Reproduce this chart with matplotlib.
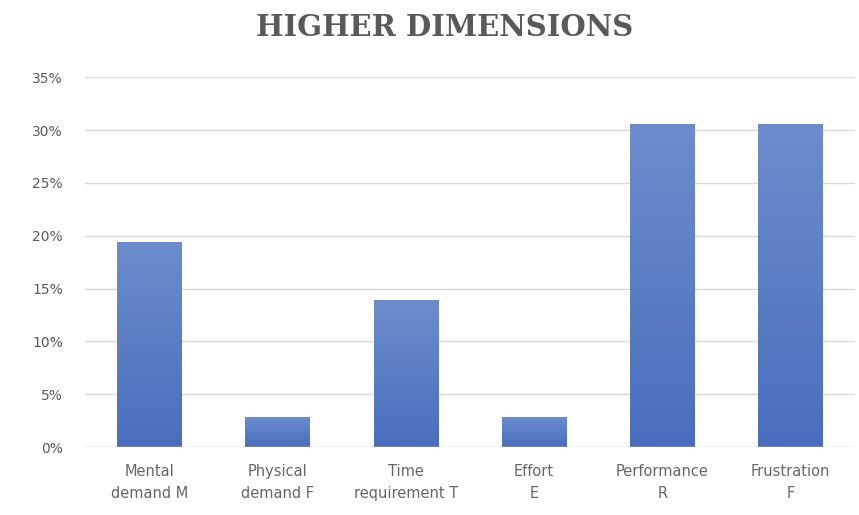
import numpy as np
import matplotlib.pyplot as plt
from matplotlib.colors import LinearSegmentedColormap

categories = ["Mental\ndemand M", "Physical\ndemand F", "Time\nrequirement T",
              "Effort\nE", "Performance\nR", "Frustration\nF"]
values = [19.4, 2.8, 13.9, 2.8, 30.6, 30.6]
yticks = [0, 5, 10, 15, 20, 25, 30, 35]

fig = plt.figure(figsize=(8.59, 5.15), dpi=100)
ax = fig.add_axes([0.099, 0.132, 0.896, 0.718])

x = np.arange(len(categories))
bars = ax.bar(x, values, width=0.5, color="#5578c4", zorder=2)

# vertical gradient in each bar, light at top and darker at bottom
cmap = LinearSegmentedColormap.from_list("bar", ["#4a6ebd", "#6c8ccd"])
grad = np.linspace(0, 1, 256).reshape(-1, 1)
for b in bars:
    x0, y0 = b.get_x(), b.get_y()
    w, h = b.get_width(), b.get_height()
    im = ax.imshow(grad, cmap=cmap, origin="lower", aspect="auto",
                   extent=[x0, x0 + w, y0, y0 + h], zorder=3)
    im.set_clip_path(b)

ax.set_xlim(-0.5, len(categories) - 0.5)
ax.set_ylim(0, 35)
ax.set_yticks(yticks)
ax.set_yticklabels([f"{t}%" for t in yticks], color="#595959", fontsize=10)
ax.set_xticks(x)
ax.set_xticklabels(categories, color="#666666", fontsize=10.5, linespacing=1.6)
ax.tick_params(length=0)
ax.tick_params(axis="x", pad=12)
ax.tick_params(axis="y", pad=16)
ax.grid(axis="y", color="#d9d9d9", linewidth=1, zorder=0)
ax.axhline(0, color="#d9d9d9", linewidth=1, zorder=4)
for s in ax.spines.values():
    s.set_visible(False)

fig.text(0.518, 0.947, "HIGHER DIMENSIONS", ha="center", va="center",
         fontsize=21, fontweight="bold", family="DejaVu Serif", color="#595959")

fig.savefig("out.png", dpi=100)
